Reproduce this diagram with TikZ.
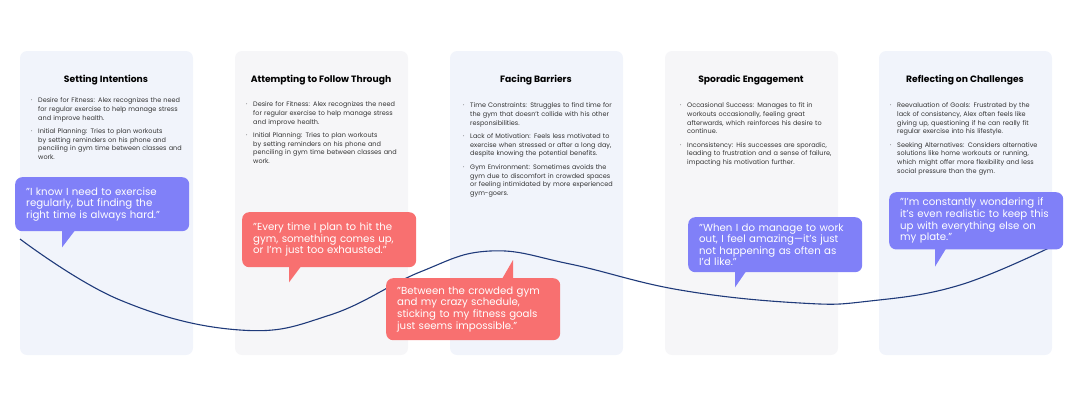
\documentclass[tikz,border=0pt]{standalone}
\usepackage{fontspec}
\setmainfont{Poppins}
\usetikzlibrary{calc}
\definecolor{cardblue}{HTML}{F1F4FB}
\definecolor{cardgray}{HTML}{F6F6F8}
\definecolor{quotepurple}{HTML}{8080F8}
\definecolor{quotered}{HTML}{F87070}
\definecolor{curvenavy}{HTML}{1F3A7A}
\definecolor{bodytext}{HTML}{333333}
\newcommand\nohyph{\hyphenpenalty=10000\relax\exhyphenpenalty=10000\relax}
\newcommand\jitem[1]{\par\noindent\hangindent=7pt\hangafter=1\makebox[7pt][l]{\textperiodcentered}#1\par\vspace{5pt}}

\begin{document}
\begin{tikzpicture}[x=1pt,y=-1pt]
  \tikzstyle{card}=[rounded corners=7pt, draw=none]
  \tikzstyle{stage}=[font=\fontsize{9.2}{11}\selectfont\bfseries, text=black]
  \tikzstyle{notes}=[anchor=north west, text width=152pt, inner sep=0pt,
                     font=\fontsize{6.5}{8.6}\selectfont\nohyph, text=bodytext, align=left]
  \tikzstyle{quote}=[anchor=north west, minimum width=174pt, text width=152pt,
                     inner xsep=11pt, inner ysep=6pt, rounded corners=7pt, text=white,
                     font=\fontsize{10.2}{11.6}\selectfont\nohyph, align=left]

  \useasboundingbox (0,0) rectangle (1073,408);

  % stage cards
  \fill[card, cardblue] (20,51) rectangle (193,355);
  \fill[card, cardgray] (235,51) rectangle (408,355);
  \fill[card, cardblue] (450,51) rectangle (623,355);
  \fill[card, cardgray] (665,51) rectangle (838,355);
  \fill[card, cardblue] (879,51) rectangle (1052,355);

  \node[stage] (t1) at (106,80) {Setting Intentions};
  \node[stage] (t2) at (321,80) {Attempting to Follow Through};
  \node[stage] (t3) at (536,80) {Facing Barriers};
  \node[stage] (t4) at (751,80) {Sporadic Engagement};
  \node[stage] (t5) at (965,80) {Reflecting on Challenges};

  \node[notes] (n1) at (31,94) {%
    \jitem{Desire for Fitness: Alex recognizes the need for regular exercise to help manage stress and improve health.}
    \jitem{Initial Planning: Tries to plan workouts by setting reminders on his phone and penciling in gym time between classes and work.}};
  \node[notes] (n2) at (246,98) {%
    \jitem{Desire for Fitness: Alex recognizes the need for regular exercise to help manage stress and improve health.}
    \jitem{Initial Planning: Tries to plan workouts by setting reminders on his phone and penciling in gym time between classes and work.}};
  \node[notes] (n3) at (463,99) {%
    \jitem{Time Constraints: Struggles to find time for the gym that doesn't collide with his other responsibilities.}
    \jitem{Lack of Motivation: Feels less motivated to exercise when stressed or after a long day, despite knowing the potential benefits.}
    \jitem{Gym Environment: Sometimes avoids the gym due to discomfort in crowded spaces or feeling intimidated by more experienced gym-goers.}};
  \node[notes] (n4) at (680,99) {%
    \jitem{Occasional Success: Manages to fit in workouts occasionally, feeling great afterwards, which reinforces his desire to continue.}
    \jitem{Inconsistency: His successes are sporadic, leading to frustration and a sense of failure, impacting his motivation further.}};
  \node[notes] (n5) at (890,99) {%
    \jitem{Reevaluation of Goals: Frustrated by the lack of consistency, Alex often feels like giving up, questioning if he can really fit regular exercise into his lifestyle.}
    \jitem{Seeking Alternatives: Considers alternative solutions like home workouts or running, which might offer more flexibility and less social pressure than the gym.}};

  % journey curve
  \draw[curvenavy, line width=1.1pt] plot[smooth, tension=0.7] coordinates
    {(20,239) (120,300) (240,330) (330,315) (420,272) (490,251) (570,264)
     (680,290) (800,303) (870,301) (960,285) (1053,246)};

  % quotes
  \node[quote, fill=quotepurple, minimum height=54pt] (q1) at (15,177)
    {"I know I need to exercise regularly, but finding the right time is always hard."};
  \fill[quotepurple] ($(q1.south west)+(47,-1)$) -- ($(q1.south west)+(47,16)$) -- ($(q1.south west)+(60,-1)$) -- cycle;

  \node[quote, fill=quotered, minimum height=55pt] (q2) at (242,212)
    {"Every time I plan to hit the gym, something comes up, or I'm just too exhausted."};
  \fill[quotered] ($(q2.south west)+(47,-1)$) -- ($(q2.south west)+(47,15)$) -- ($(q2.south west)+(59,-1)$) -- cycle;

  \node[quote, fill=quotered, minimum height=62pt] (q3) at (386,278)
    {"Between the crowded gym and my crazy schedule, sticking to my fitness goals just seems impossible."};
  \fill[quotered] ($(q3.north west)+(116,1)$) -- ($(q3.north west)+(127,-18)$) -- ($(q3.north west)+(127,1)$) -- cycle;

  \node[quote, fill=quotepurple, minimum height=55pt] (q4) at (688,217)
    {"When I do manage to work out, I feel amazing---it's just not happening as often as I'd like."};
  \fill[quotepurple] ($(q4.south west)+(47,-1)$) -- ($(q4.south west)+(47,15)$) -- ($(q4.south west)+(58,-1)$) -- cycle;

  \node[quote, fill=quotepurple, minimum height=53pt] (q5) at (889,192)
    {"I'm constantly wondering if it's even realistic to keep this up with everything else on my plate."};
  \fill[quotepurple] ($(q5.south west)+(46,-1)$) -- ($(q5.south west)+(46,17)$) -- ($(q5.south west)+(57,-1)$) -- cycle;
\end{tikzpicture}
\end{document}
